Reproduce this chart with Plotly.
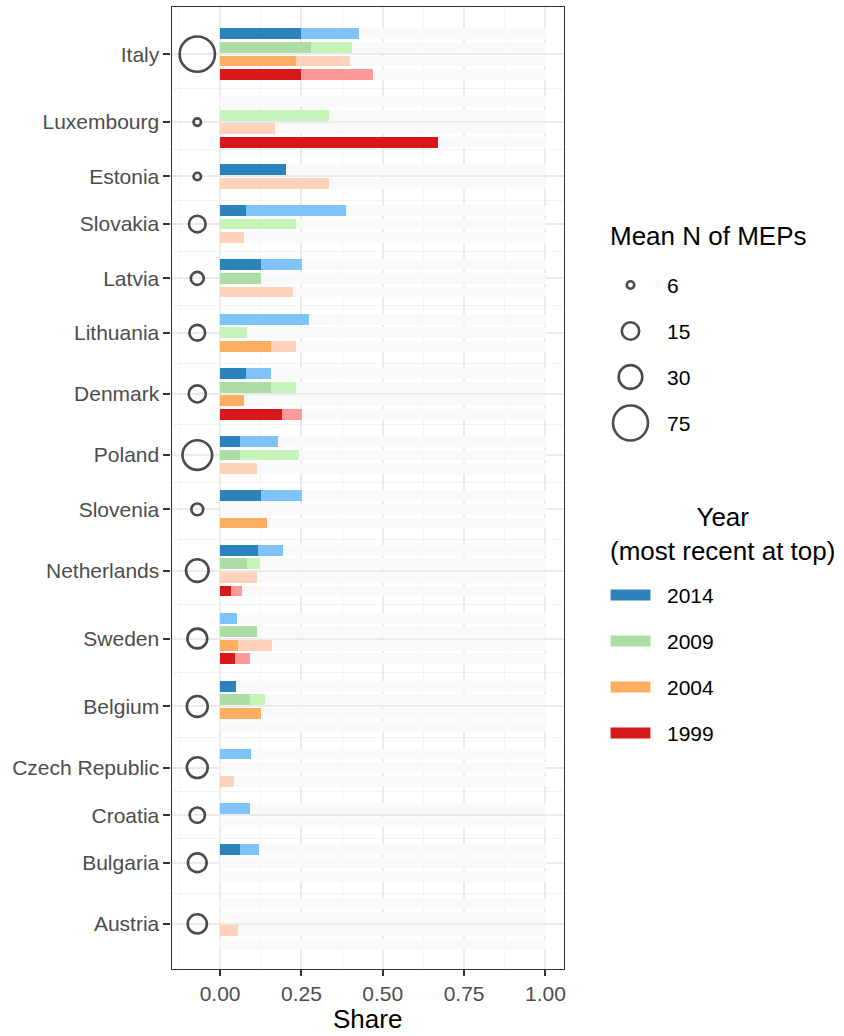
import math
import plotly.graph_objects as go

# ---- data -------------------------------------------------------------
COUNTRIES = ["Italy", "Luxembourg", "Estonia", "Slovakia", "Latvia", "Lithuania",
             "Denmark", "Poland", "Slovenia", "Netherlands", "Sweden", "Belgium",
             "Czech Republic", "Croatia", "Bulgaria", "Austria"]
MEAN_MEPS = [77, 6, 6, 13.7, 8.7, 12.3, 14.5, 51, 7.7, 27, 20, 22.5, 22.3, 11.5, 17.5, 18.5]
YEARS = ["2014", "2009", "2004", "1999"]

# share per country and election (None = no row for that election)
TOTAL_2014 = [0.425, 0, 0.2, 0.385, 0.25, 0.273, 0.154, 0.176, 0.25, 0.192, 0.05, 0.048, 0.095, 0.091, 0.118, 0]
DARK_2014 = [0.246, 0, 0.2, 0.077, 0.125, 0, 0.077, 0.059, 0.125, 0.115, 0, 0.048, 0, 0, 0.059, 0]
TOTAL_2009 = [0.403, 0.333, None, 0.231, 0.125, 0.083, 0.231, 0.24, 0, 0.12, 0.111, 0.136, 0, 0, 0, 0]
DARK_2009 = [0.279, 0, None, 0, 0.125, 0, 0.154, 0.059, 0, 0.08, 0.111, 0.091, 0, 0, 0, 0]
TOTAL_2004 = [0.398, 0.167, 0.333, 0.071, 0.222, 0.231, 0.071, 0.111, 0.143, 0.111, 0.158, 0.125, 0.042, None, 0, 0.055]
DARK_2004 = [0.231, 0, 0, 0, 0, 0.154, 0.071, 0, 0.143, 0, 0.053, 0.125, 0, None, 0, 0]
TOTAL_1999 = [0.469, 0.667, None, None, None, None, 0.25, None, None, 0.065, 0.091, 0, None, None, None, 0]
DARK_1999 = [0.246, 0.667, None, None, None, None, 0.188, None, None, 0.032, 0.045, 0, None, None, None, 0]

FULL_SHARE = 1.0
SIZE_BREAKS = [6, 15, 30, 75]

TOTALS = {"2014": TOTAL_2014, "2009": TOTAL_2009, "2004": TOTAL_2004, "1999": TOTAL_1999}
DARKS = {"2014": DARK_2014, "2009": DARK_2009, "2004": DARK_2004, "1999": DARK_1999}

# ---- styling ----------------------------------------------------------
DARK_COL = {"2014": "#2b83ba", "2009": "#abdda4", "2004": "#fdae61", "1999": "#d7191c"}
LIGHT_COL = {"2014": "#80c2fa", "2009": "#c4f4b9", "2004": "#fed3b9", "1999": "#ff9898"}
BG_COL = "#f9f9f9"
FONT = "Liberation Sans, Arial, Helvetica, sans-serif"
W, H = 844, 1036
PX_L, PX_R, PX_T, PX_B = 172, 565, 7, 969
CIRCLE_X = -0.07
RING = dict(color="rgba(0,0,0,0)", line=dict(width=2.6, color="#000000"))


def size_px(v):
    # ggplot-style area scale: diameter grows with sqrt of rescaled value
    return 7.5 + 3.3 * math.sqrt(max(v - 6, 0))


# ---- row layout: one row per election, blank row between countries ----
row_of = {y: [None] * len(COUNTRIES) for y in YEARS}
centers = []
r = 0
for i in range(len(COUNTRIES)):
    idx = []
    for y in YEARS:
        if TOTALS[y][i] is not None:
            row_of[y][i] = r
            idx.append(r)
            r += 1
    centers.append(sum(idx) / len(idx))
    r += 1
minor_y = [(a + b) / 2 for a, b in zip(centers[:-1], centers[1:])]

fig = go.Figure()

# background bars
bg_rows = [row_of[y][i] for i in range(len(COUNTRIES)) for y in YEARS if row_of[y][i] is not None]
last_row = max(bg_rows)
fig.add_trace(go.Bar(y=bg_rows, x=[FULL_SHARE] * len(bg_rows), orientation="h",
                     width=0.8, marker=dict(color=BG_COL, line=dict(width=0)),
                     showlegend=False, hoverinfo="skip"))

for y in YEARS:
    ys = [row_of[y][i] for i in range(len(COUNTRIES)) if row_of[y][i] is not None]
    xs = [TOTALS[y][i] for i in range(len(COUNTRIES)) if row_of[y][i] is not None]
    fig.add_trace(go.Bar(y=ys, x=xs, orientation="h", width=0.8,
                         marker=dict(color=LIGHT_COL[y], line=dict(width=0)),
                         showlegend=False, name=y))
for y in YEARS:
    ys = [row_of[y][i] for i in range(len(COUNTRIES)) if row_of[y][i] is not None]
    xs = [DARKS[y][i] for i in range(len(COUNTRIES)) if row_of[y][i] is not None]
    fig.add_trace(go.Bar(y=ys, x=xs, orientation="h", width=0.8,
                         marker=dict(color=DARK_COL[y], line=dict(width=0)),
                         showlegend=False, name=y))

# mean number of MEPs per country
fig.add_trace(go.Scatter(x=[CIRCLE_X] * len(COUNTRIES), y=centers, mode="markers",
                         marker=dict(symbol="circle", size=[size_px(v) for v in MEAN_MEPS], **RING),
                         showlegend=False, text=COUNTRIES))

# size legend keys
fig.add_trace(go.Scatter(x=[0] * len(SIZE_BREAKS), y=list(range(len(SIZE_BREAKS))),
                         mode="markers", xaxis="x2", yaxis="y2",
                         marker=dict(symbol="circle", size=[size_px(v) for v in SIZE_BREAKS], **RING),
                         showlegend=False, hoverinfo="skip"))
# year legend keys
fig.add_trace(go.Scatter(x=[0] * len(YEARS), y=list(range(len(YEARS))),
                         mode="markers", xaxis="x3", yaxis="y3",
                         marker=dict(symbol="line-ew", size=37,
                                     line=dict(width=11, color=[DARK_COL[y] for y in YEARS])),
                         showlegend=False, hoverinfo="skip"))

ann = []
for k, v in enumerate(SIZE_BREAKS):
    ann.append(dict(x=667 / W, xref="paper", y=k, yref="y2", text=str(v), showarrow=False,
                    xanchor="left", yanchor="middle", font=dict(size=21, color="black")))
for k, y in enumerate(YEARS):
    ann.append(dict(x=667 / W, xref="paper", y=k, yref="y3", text=y, showarrow=False,
                    xanchor="left", yanchor="middle", font=dict(size=21, color="black")))
ann.append(dict(x=609 / W, xref="paper", y=1 - 236 / H, yref="paper", text="Mean N of MEPs",
                showarrow=False, xanchor="left", yanchor="middle", font=dict(size=26, color="black")))
ann.append(dict(x=724 / W, xref="paper", y=1 - 534 / H, yref="paper",
                text="Year<br>(most recent at top)", align="center",
                showarrow=False, xanchor="center", yanchor="middle", font=dict(size=26, color="black")))
ann.append(dict(x=(PX_L + PX_R) / 2 / W, xref="paper", y=1 - 1019 / H, yref="paper", text="Share",
                showarrow=False, xanchor="center", yanchor="middle", borderpad=0,
                font=dict(size=26, color="black")))

fig.update_layout(
    width=W, height=H, margin=dict(l=0, r=0, t=0, b=0),
    paper_bgcolor="white", plot_bgcolor="white",
    barmode="overlay", bargap=0,
    font=dict(family=FONT),
    annotations=ann,
    xaxis=dict(domain=[PX_L / W, PX_R / W], range=[-0.149, 1.056],
               tickvals=[0, 0.25, 0.5, 0.75, 1.0], tickformat=".2f",
               ticks="outside", ticklen=6, tickwidth=2, tickcolor="#333333",
               tickfont=dict(size=21, color="#4d4d4d"),
               showgrid=True, gridcolor="#ebebeb", gridwidth=1.6, zeroline=False,
               minor=dict(tickmode="linear", tick0=-0.125, dtick=0.25, showgrid=True,
                          gridcolor="#f3f3f3", gridwidth=0.8, ticks=""),
               showline=True, mirror=True, linecolor="#333333", linewidth=1.3),
    yaxis=dict(domain=[1 - PX_B / H, 1 - PX_T / H], range=[last_row + 1.82, -1.97],
               tickmode="array", tickvals=centers, ticktext=COUNTRIES,
               ticks="outside", ticklen=7, tickwidth=2, tickcolor="#333333",
               tickfont=dict(size=21, color="#4d4d4d"),
               showgrid=True, gridcolor="#ebebeb", gridwidth=1.6, zeroline=False,
               minor=dict(tickmode="array", tickvals=minor_y, showgrid=True,
                          gridcolor="#f3f3f3", gridwidth=0.8, ticks=""),
               showline=True, mirror=True, linecolor="#333333", linewidth=1.3),
    xaxis2=dict(domain=[612 / W, 652 / W], range=[-1, 1], visible=False, fixedrange=True,
                anchor="y2"),
    yaxis2=dict(domain=[1 - 446 / H, 1 - 262 / H], range=[3.5, -0.5], visible=False,
                anchor="x2", fixedrange=True),
    xaxis3=dict(domain=[612 / W, 652 / W], range=[-1, 1], visible=False, fixedrange=True,
                anchor="y3"),
    yaxis3=dict(domain=[1 - 756 / H, 1 - 572 / H], range=[3.5, -0.5], visible=False,
                anchor="x3", fixedrange=True),
)

fig.write_html("out.html")
